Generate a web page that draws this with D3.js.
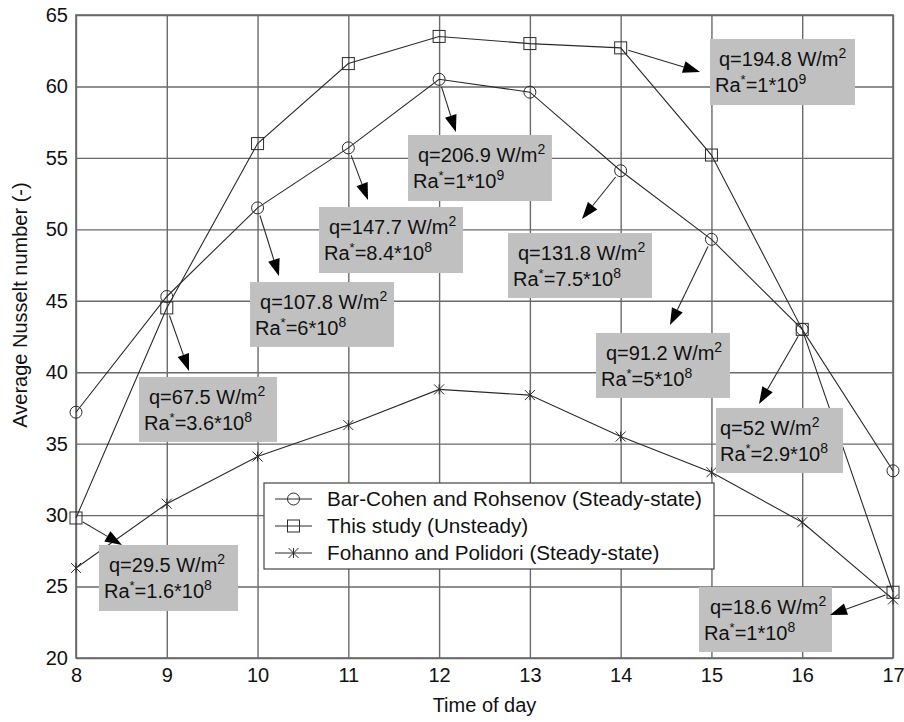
<!DOCTYPE html>
<html>
<head>
<meta charset="utf-8">
<script src="https://cdn.jsdelivr.net/npm/d3@7"></script>
<style>
  html, body { margin: 0; padding: 0; background: #fff; }
  svg { display: block; font-family: "Liberation Sans", Arial, sans-serif; }
</style>
</head>
<body>
<svg id="chart" width="904" height="722"></svg>
<script>
// Hour of the day (x axis)
const hours = [8, 9, 10, 11, 12, 13, 14, 15, 16, 17];

// Average Nusselt number per hour for each correlation
const barCohen  = [37.2, 45.3, 51.5, 55.7, 60.5, 59.6, 54.1, 49.3, 43.0, 33.1];
const thisStudy = [29.8, 44.5, 56.0, 61.6, 63.5, 63.0, 62.7, 55.2, 43.0, 24.6];
const fohanno   = [26.3, 30.8, 34.1, 36.3, 38.8, 38.4, 35.5, 33.0, 29.5, 24.1];

const seriesNames = [
  "Bar-Cohen and Rohsenov (Steady-state)",
  "This study (Unsteady)",
  "Fohanno and Polidori (Steady-state)"
];

const xTicks = [8, 9, 10, 11, 12, 13, 14, 15, 16, 17];
const yTicks = [20, 25, 30, 35, 40, 45, 50, 55, 60, 65];

// Heat flux / modified Rayleigh number callouts
const calloutQ  = ["206.9", "147.7", "107.8", "67.5", "29.5", "131.8", "194.8", "91.2", "52", "18.6"];
const calloutRa = ["1", "8.4", "6", "3.6", "1.6", "7.5", "1", "5", "2.9", "1"];
const calloutExp = ["9", "8", "8", "8", "8", "8", "9", "8", "8", "8"];
// which series (0 = Bar-Cohen, 1 = this study) and hour each callout arrow leaves from
const calloutSeries = [0, 0, 0, 1, 1, 0, 1, 0, 0, 1];
const calloutHour   = [12, 11, 10, 9, 8, 14, 14, 15, 16, 17];

// Callout placement in data units: box [x0, yTop, x1, yBottom], arrow tip [x, y]
const calloutBox = [
  [11.657, 56.60, 13.243, 51.98],
  [10.677, 51.56, 12.263, 46.94],
  [9.917, 46.31, 11.503, 41.77],
  [8.694, 39.67, 10.214, 35.12],
  [8.253, 27.91, 9.785, 23.29],
  [12.759, 49.74, 14.345, 45.19],
  [14.984, 63.32, 16.581, 58.70],
  [13.728, 42.75, 15.204, 38.20],
  [15.050, 37.50, 16.449, 32.95],
  [14.863, 24.97, 16.328, 20.42]
];
const calloutTip = [
  [12.185, 56.81], [11.217, 52.05], [10.236, 46.73], [9.245, 40.09], [8.507, 27.91],
  [13.574, 50.72], [14.874, 61.01], [14.543, 43.30], [15.524, 37.78], [16.306, 23.01]
];
const calloutPad = [[10, 5], [10, 5], [10, 5], [10, 5], [10, 5], [10, 5], [9, 5], [10, 5], [4, 4], [11, 5]];

const svg = d3.select("#chart");
const plotLeft = 76, plotRight = 893, plotTop = 15, plotBottom = 658;
const x = d3.scaleLinear().domain([8, 17]).range([plotLeft, plotRight]);
const y = d3.scaleLinear().domain([20, 65]).range([plotBottom, plotTop]);

const gridColor = "#6a6a6a";
const inkColor = "#2a2a2a";
const fontSize = 20;

// Grid lines + tick labels
const xAxis = svg.append("g")
  .attr("transform", `translate(0,${plotBottom})`)
  .call(d3.axisBottom(x).tickValues(xTicks).tickFormat(d3.format("d"))
    .tickSize(-(plotBottom - plotTop)).tickPadding(10));
const yAxis = svg.append("g")
  .attr("transform", `translate(${plotLeft},0)`)
  .call(d3.axisLeft(y).tickValues(yTicks).tickFormat(d3.format("d"))
    .tickSize(-(plotRight - plotLeft)).tickPadding(8));
[xAxis, yAxis].forEach(g => {
  g.select(".domain").remove();
  g.selectAll(".tick line").attr("stroke", gridColor).attr("stroke-width", 1.4);
  g.selectAll(".tick text").attr("fill", "#111").style("font-size", fontSize + "px")
    .style("font-family", "'Liberation Sans', Arial, sans-serif");
});

// Plot frame
svg.append("rect")
  .attr("x", plotLeft).attr("y", plotTop)
  .attr("width", plotRight - plotLeft).attr("height", plotBottom - plotTop)
  .attr("fill", "none").attr("stroke", gridColor).attr("stroke-width", 1.6);

// Axis titles
svg.append("text")
  .attr("x", (plotLeft + plotRight) / 2).attr("y", 712)
  .attr("text-anchor", "middle").attr("fill", "#111")
  .style("font-size", fontSize + "px")
  .text("Time of day");
svg.append("text")
  .attr("transform", "translate(27,305) rotate(-90)")
  .attr("text-anchor", "middle").attr("fill", "#111")
  .style("font-size", fontSize + "px")
  .text("Average Nusselt number (-)");

// Marker shapes
const markerR = 6;
function drawMarker(g, kind, cx, cy) {
  if (kind === 0) {
    g.append("circle").attr("cx", cx).attr("cy", cy).attr("r", markerR)
      .attr("fill", "none").attr("stroke", inkColor).attr("stroke-width", 1);
  } else if (kind === 1) {
    g.append("rect").attr("x", cx - markerR).attr("y", cy - markerR)
      .attr("width", 2 * markerR).attr("height", 2 * markerR)
      .attr("fill", "none").attr("stroke", inkColor).attr("stroke-width", 1);
  } else {
    const s = 5;
    const p = d3.path();
    p.moveTo(cx, cy - s); p.lineTo(cx, cy + s);
    p.moveTo(cx - s, cy - s); p.lineTo(cx + s, cy + s);
    p.moveTo(cx - s, cy + s); p.lineTo(cx + s, cy - s);
    g.append("path").attr("d", p.toString()).attr("stroke", inkColor)
      .attr("stroke-width", 1).attr("fill", "none");
  }
}

// Series lines and markers
const allSeries = [barCohen, thisStudy, fohanno];
const line = d3.line().x(d => x(d[0])).y(d => y(d[1]));
const dataG = svg.append("g");
allSeries.forEach((vals, k) => {
  const pts = hours.map((h, i) => [h, vals[i]]);
  dataG.append("path").attr("d", line(pts))
    .attr("fill", "none").attr("stroke", inkColor).attr("stroke-width", 1.1);
  pts.forEach(p => drawMarker(dataG, k, x(p[0]), y(p[1])));
});

// Legend
const lg = svg.append("g");
lg.append("rect").attr("x", 264).attr("y", 483).attr("width", 450).attr("height", 86)
  .attr("fill", "#fff").attr("stroke", "#444").attr("stroke-width", 1.2);
seriesNames.forEach((name, k) => {
  const cy = 499 + k * 27;
  lg.append("line").attr("x1", 275).attr("x2", 312).attr("y1", cy).attr("y2", cy)
    .attr("stroke", inkColor).attr("stroke-width", 1.1);
  drawMarker(lg, k, 293.5, cy);
  lg.append("text").attr("x", 327).attr("y", cy + 7).attr("fill", "#111")
    .style("font-size", "20.7px").text(name);
});

// Callout boxes with text
const cg = svg.append("g");
calloutBox.forEach((b, i) => {
  const bx = x(b[0]), by = y(b[1]), bw = x(b[2]) - x(b[0]), bh = y(b[3]) - y(b[1]);
  cg.append("rect").attr("x", bx).attr("y", by).attr("width", bw).attr("height", bh)
    .attr("fill", "#c0c0c0");
  const t1 = cg.append("text").attr("x", bx + calloutPad[i][0]).attr("y", by + 27)
    .attr("fill", "#111").style("font-size", fontSize + "px");
  t1.append("tspan").text(`q=${calloutQ[i]} W/m`);
  t1.append("tspan").attr("dy", -8).style("font-size", "14px").text("2");
  const t2 = cg.append("text").attr("x", bx + calloutPad[i][1]).attr("y", by + 53)
    .attr("fill", "#111").style("font-size", fontSize + "px");
  t2.append("tspan").text("Ra");
  t2.append("tspan").attr("dy", -8).style("font-size", "13px").text("*");
  t2.append("tspan").attr("dy", 8).text(`=${calloutRa[i]}*10`);
  t2.append("tspan").attr("dy", -8).style("font-size", "14px").text(calloutExp[i]);
});

// Callout arrows from the data point to the box
const ag = svg.append("g");
calloutTip.forEach((tip, i) => {
  const vals = allSeries[calloutSeries[i]];
  const hi = hours.indexOf(calloutHour[i]);
  const px = x(calloutHour[i]), py = y(vals[hi]);
  const tx = x(tip[0]), ty = y(tip[1]);
  const ang = Math.atan2(ty - py, tx - px);
  const sx = px + Math.cos(ang) * 8, sy = py + Math.sin(ang) * 8;
  const headL = 17, headW = 6;
  const bxp = tx - Math.cos(ang) * headL, byp = ty - Math.sin(ang) * headL;
  ag.append("line").attr("x1", sx).attr("y1", sy).attr("x2", bxp).attr("y2", byp)
    .attr("stroke", inkColor).attr("stroke-width", 1.1);
  const nx = -Math.sin(ang), ny = Math.cos(ang);
  ag.append("path")
    .attr("d", `M${tx},${ty}L${bxp + nx * headW},${byp + ny * headW}L${bxp - nx * headW},${byp - ny * headW}Z`)
    .attr("fill", "#000");
});
</script>
</body>
</html>
